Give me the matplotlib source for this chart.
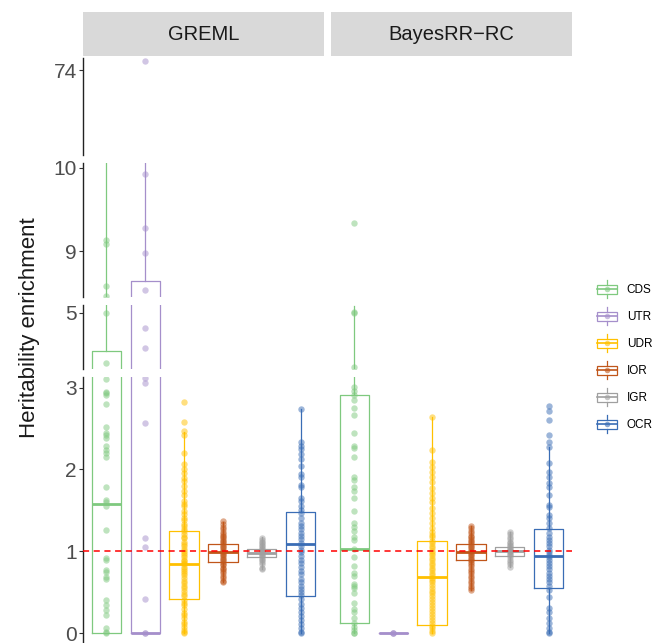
import numpy as np
import matplotlib
matplotlib.use('Agg')
import matplotlib.pyplot as plt
from matplotlib.legend_handler import HandlerBase
from matplotlib.patches import Rectangle
from matplotlib.lines import Line2D

plt.rcParams['font.family'] = ['Liberation Sans', 'DejaVu Sans']

# ---------------------------------------------------------------- data
categories = ['CDS', 'UTR', 'UDR', 'IOR', 'IGR', 'OCR']
methods = ['GREML', 'BayesRR\u2212RC']
colors = ['#7FC97F', '#A58FCB', '#FFC000', '#C0561A', '#A0A0A0', '#3A6DB5']

# box statistics (q1, median, q3, whisker low, whisker high)
greml_q1 = [0.0, 0.0, 0.42, 0.87, 0.93, 0.46]
greml_med = [1.58, 0.0, 0.84, 0.99, 0.98, 1.09]
greml_q3 = [4.05, 8.64, 1.25, 1.09, 1.03, 1.48]
greml_lo = [0.0, 0.0, 0.0, 0.62, 0.79, 0.0]
greml_hi = [10.5, 10.5, 2.46, 1.36, 1.17, 2.74]

bayes_q1 = [0.12, 0.0, 0.10, 0.89, 0.94, 0.55]
bayes_med = [1.03, 0.0, 0.69, 0.99, 1.00, 0.94]
bayes_q3 = [2.91, 0.0, 1.13, 1.09, 1.05, 1.27]
bayes_lo = [0.0, 0.0, 0.0, 0.53, 0.81, 0.0]
bayes_hi = [5.18, 0.0, 2.64, 1.31, 1.24, 2.28]

# individual enrichment estimates
greml_cds = [0, 0.01, 0.06, 0.22, 0.28, 0.34, 0.40, 0.66, 0.69, 0.75, 0.77, 0.89, 0.92,
             1.26, 1.55, 1.60, 1.63, 1.79, 2.15, 2.20, 2.24, 2.29, 2.39, 2.42, 2.45, 2.52,
             2.80, 2.91, 2.93, 2.95, 3.10, 3.75, 5.01, 8.46, 8.58, 9.08, 9.13]
greml_utr = [0, 0, 0.42, 1.05, 1.16, 2.57, 3.06, 3.12, 4.13, 4.63, 8.53, 8.98, 9.28,
             9.93, 77.0]
greml_udr = [2.83, 2.58, 2.47, 2.42, 2.20, 2.07, 2.00, 1.96, 1.90, 1.86, 1.80, 1.74,
             1.69, 1.62, 1.58, 1.55, 1.49, 1.46, 1.41, 1.38, 1.34, 1.31, 1.27, 1.25,
             1.21, 1.18, 1.16, 1.12, 1.09, 1.07, 1.03, 1.01, 0.98, 0.96, 0.93, 0.90,
             0.88, 0.86, 0.84, 0.81, 0.79, 0.76, 0.73, 0.71, 0.67, 0.64, 0.61, 0.58,
             0.55, 0.51, 0.48, 0.45, 0.41, 0.37, 0.34, 0.30, 0.25, 0.22, 0.18, 0.14,
             0.11, 0.07, 0.04, 0.01, 0.0]
greml_ior = [1.37, 1.33, 1.30, 1.27, 1.24, 1.21, 1.19, 1.17, 1.15, 1.13, 1.11, 1.09,
             1.07, 1.05, 1.03, 1.01, 0.99, 0.97, 0.95, 0.93, 0.91, 0.89, 0.87, 0.85,
             0.83, 0.80, 0.78, 0.76, 0.73, 0.70, 0.67, 0.64, 0.62]
greml_igr = [1.16, 1.14, 1.12, 1.10, 1.08, 1.06, 1.04, 1.03, 1.01, 1.00, 0.99, 0.98,
             0.96, 0.95, 0.93, 0.91, 0.89, 0.87, 0.84, 0.80, 0.78]
greml_ocr = [2.74, 2.33, 2.29, 2.25, 2.19, 2.13, 2.04, 1.94, 1.91, 1.81, 1.79, 1.65,
             1.61, 1.55, 1.50, 1.47, 1.41, 1.35, 1.31, 1.27, 1.23, 1.19, 1.15, 1.10,
             1.06, 1.02, 0.99, 0.94, 0.90, 0.86, 0.81, 0.76, 0.72, 0.66, 0.62, 0.58,
             0.54, 0.50, 0.47, 0.42, 0.36, 0.31, 0.26, 0.21, 0.16, 0.11, 0.06, 0.02, 0.0]

bayes_cds = [0, 0, 0.04, 0.08, 0.12, 0.19, 0.26, 0.30, 0.37, 0.49, 0.55, 0.58, 0.60,
             0.70, 0.73, 0.82, 0.93, 1.03, 1.14, 1.18, 1.25, 1.30, 1.35, 1.49, 1.65,
             1.74, 1.79, 1.87, 1.91, 2.15, 2.26, 2.29, 2.44, 2.67, 2.75, 2.85, 2.91,
             2.96, 3.01, 3.65, 5.00, 5.03, 9.34]
bayes_utr = [0, 0, 0]
bayes_udr = [2.64, 2.24, 2.09, 2.03, 1.97, 1.91, 1.85, 1.77, 1.71, 1.65, 1.60, 1.53,
             1.47, 1.41, 1.35, 1.29, 1.24, 1.20, 1.17, 1.13, 1.10, 1.07, 1.04, 1.01,
             0.98, 0.95, 0.92, 0.89, 0.86, 0.83, 0.80, 0.77, 0.74, 0.71, 0.68, 0.65,
             0.62, 0.59, 0.55, 0.52, 0.49, 0.45, 0.42, 0.38, 0.35, 0.31, 0.27, 0.24,
             0.20, 0.16, 0.13, 0.09, 0.06, 0.03, 0.0]
bayes_ior = [1.31, 1.28, 1.25, 1.22, 1.19, 1.17, 1.15, 1.13, 1.11, 1.09, 1.07, 1.05,
             1.03, 1.01, 0.99, 0.97, 0.95, 0.93, 0.91, 0.89, 0.87, 0.85, 0.82, 0.79,
             0.76, 0.73, 0.70, 0.67, 0.64, 0.61, 0.58, 0.55, 0.53]
bayes_igr = [1.24, 1.21, 1.18, 1.15, 1.12, 1.10, 1.08, 1.06, 1.04, 1.03, 1.01, 1.00,
             0.99, 0.97, 0.95, 0.93, 0.90, 0.87, 0.84, 0.81]
bayes_ocr = [2.77, 2.71, 2.60, 2.42, 2.33, 2.28, 2.08, 1.97, 1.91, 1.84, 1.79, 1.69,
             1.57, 1.54, 1.44, 1.41, 1.35, 1.29, 1.22, 1.18, 1.14, 1.10, 1.06, 1.02,
             0.99, 0.96, 0.93, 0.90, 0.86, 0.82, 0.78, 0.74, 0.70, 0.66, 0.62, 0.58,
             0.53, 0.44, 0.31, 0.26, 0.18, 0.12, 0.06, 0.02, 0.0]

panels = [
    (greml_q1, greml_med, greml_q3, greml_lo, greml_hi,
     [greml_cds, greml_utr, greml_udr, greml_ior, greml_igr, greml_ocr]),
    (bayes_q1, bayes_med, bayes_q3, bayes_lo, bayes_hi,
     [bayes_cds, bayes_utr, bayes_udr, bayes_ior, bayes_igr, bayes_ocr]),
]

# ---------------------------------------------------------------- layout (pixels)
W, H = 658, 643
panel_x = [(83, 324), (331, 572)]
# broken y axis: pixel span (top, bottom), value range and ticks of each piece
seg_px = [(377, 643), (305, 369), (163, 297), (58, 155)]
seg_lim = [(-0.12, 3.13), (3.6, 5.2), (8.446, 10.06), (45.7, 78.0)]
seg_ticks = [[0, 1, 2, 3], [5], [9, 10], [74]]


def rect(x0, x1, ytop, ybot):
    return [x0 / W, 1 - ybot / H, (x1 - x0) / W, (ybot - ytop) / H]


fig = plt.figure(figsize=(W / 100, H / 100), dpi=100)

for p, (q1, med, q3, lo, hi, pts) in enumerate(panels):
    x0, x1 = panel_x[p]
    # strip
    sax = fig.add_axes(rect(x0, x1, 12, 56))
    sax.set_facecolor('#D9D9D9')
    sax.set_xticks([])
    sax.set_yticks([])
    for s in sax.spines.values():
        s.set_visible(False)
    sax.text(0.5, 0.5, methods[p], ha='center', va='center', fontsize=14.5,
             color='#1A1A1A', transform=sax.transAxes)

    stats = [dict(q1=q1[i], med=med[i], q3=q3[i], whislo=lo[i], whishi=hi[i])
             for i in range(len(categories))]
    for k in range(len(seg_px)):
        ax = fig.add_axes(rect(x0, x1, *seg_px[k]))
        ax.patch.set_alpha(0)
        ax.set_xlim(0.4, 6.6)
        ax.set_ylim(*seg_lim[k])
        for s in ['top', 'right', 'bottom']:
            ax.spines[s].set_visible(False)
        ax.set_xticks([])
        if p == 0:
            ax.spines['left'].set_color('#222222')
            ax.spines['left'].set_linewidth(1.0)
            ax.set_yticks(seg_ticks[k])
            ax.tick_params(axis='y', length=3, width=0.8, color='#333333',
                           labelsize=15, labelcolor='#4D4D4D', pad=1.5)
        else:
            ax.spines['left'].set_visible(False)
            ax.set_yticks([])

        bp = ax.bxp(stats, positions=range(1, 7), widths=0.75, showfliers=False,
                    showcaps=False, manage_ticks=False)
        for i, c in enumerate(colors):
            bp['boxes'][i].set(color=c, lw=0.9)
            bp['medians'][i].set(color=c, lw=2.0)
            bp['whiskers'][2 * i].set(color=c, lw=0.9)
            bp['whiskers'][2 * i + 1].set(color=c, lw=0.9)
            ax.plot(np.full(len(pts[i]), i + 1), pts[i], 'o', ms=4.6, color=c,
                    alpha=0.5, mec='none', zorder=4)
        ax.axhline(1, color='#FF0000', lw=1.1, ls=(0, (4, 3)), zorder=6)

fig.text(30 / W, 1 - 328 / H, 'Heritability enrichment', rotation=90,
         ha='center', va='center', fontsize=16, color='#1A1A1A')


# ---------------------------------------------------------------- legend
class BoxKey(HandlerBase):
    def create_artists(self, legend, orig_handle, xdescent, ydescent, width,
                       height, fontsize, trans):
        c = orig_handle.get_color()
        x0, y0 = -xdescent, -ydescent
        xm, ym = x0 + width / 2, y0 + height / 2
        box = Rectangle((x0, y0 + height * 0.2), width, height * 0.6,
                        facecolor='white', edgecolor=c, lw=0.9, transform=trans)
        wl = Line2D([xm, xm], [y0 - height * 0.1, y0 + height * 0.2], color=c,
                    lw=0.9, transform=trans)
        wu = Line2D([xm, xm], [y0 + height * 0.8, y0 + height * 1.1], color=c,
                    lw=0.9, transform=trans)
        md = Line2D([x0, x0 + width], [ym, ym], color=c, lw=1.2, transform=trans)
        dot = Line2D([xm], [ym], marker='o', ms=4, color=c, alpha=0.6,
                     ls='none', mec='none', transform=trans)
        return [box, wl, wu, md, dot]


handles = [Line2D([], [], color=c) for c in colors]
fig.legend(handles, categories, handler_map={Line2D: BoxKey()},
           loc='upper left', bbox_to_anchor=(592 / W, 1 - 277 / H),
           frameon=False, fontsize=8.5, handlelength=1.7, handleheight=1.6,
           labelspacing=1.0, handletextpad=0.85, borderaxespad=0)

fig.savefig('out.png', dpi=100)
